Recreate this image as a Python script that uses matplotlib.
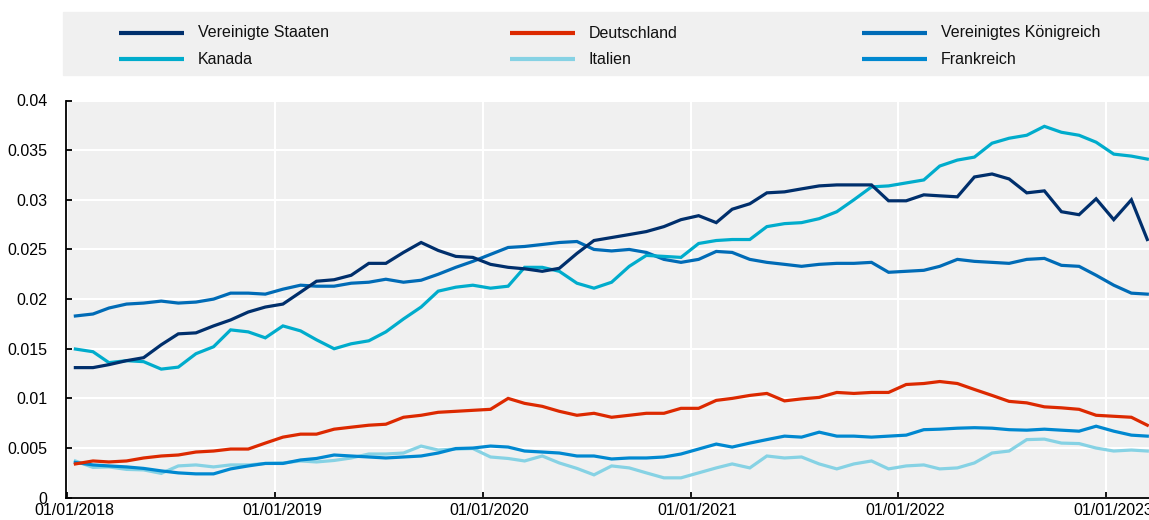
import numpy as np
import pandas as pd
import matplotlib
matplotlib.use("Agg")
import matplotlib.pyplot as plt
import matplotlib.dates as mdates
import matplotlib.transforms as mtransforms
from matplotlib.lines import Line2D
from matplotlib.patches import Rectangle
from matplotlib.ticker import FuncFormatter, MultipleLocator

plt.rcParams['font.family'] = ['Liberation Sans', 'DejaVu Sans']

# monthly observations, plotted mid-month (Jan 2018 - Mar 2023)
dates = pd.date_range('2018-01-01', '2023-03-01', freq='MS') + pd.Timedelta(days=14)

# values in thousandths
us = [13.1, 13.1, 13.4, 13.8, 14.1, 15.4, 16.5, 16.6, 17.3, 17.9, 18.7, 19.2,
      19.5, 20.7, 21.8, 21.95, 22.4, 23.6, 23.6, 24.7, 25.7, 24.9, 24.3, 24.2,
      23.5, 23.2, 23.05, 22.8, 23.1, 24.6, 25.9, 26.2, 26.5, 26.8, 27.3, 28.0,
      28.4, 27.7, 29.05, 29.6, 30.7, 30.8, 31.1, 31.4, 31.5, 31.5, 31.5, 29.9,
      29.9, 30.5, 30.4, 30.3, 32.3, 32.6, 32.1, 30.7, 30.9, 28.8, 28.5, 30.1,
      28.0, 30.0, 26.0]
de = [3.4, 3.7, 3.6, 3.7, 4.0, 4.2, 4.3, 4.6, 4.7, 4.9, 4.9, 5.5,
      6.1, 6.4, 6.4, 6.9, 7.1, 7.3, 7.4, 8.1, 8.3, 8.6, 8.7, 8.8,
      8.9, 10.0, 9.5, 9.2, 8.7, 8.3, 8.5, 8.1, 8.3, 8.5, 8.5, 9.0,
      9.0, 9.8, 10.0, 10.3, 10.5, 9.75, 9.95, 10.1, 10.6, 10.5, 10.6, 10.6,
      11.4, 11.5, 11.7, 11.5, 10.9, 10.3, 9.7, 9.55, 9.15, 9.05, 8.9, 8.3,
      8.2, 8.1, 7.3]
uk = [18.3, 18.5, 19.1, 19.5, 19.6, 19.8, 19.6, 19.7, 20.0, 20.6, 20.6, 20.5,
      21.0, 21.4, 21.3, 21.3, 21.6, 21.7, 22.0, 21.7, 21.9, 22.5, 23.2, 23.8,
      24.5, 25.2, 25.3, 25.5, 25.7, 25.8, 25.0, 24.85, 25.0, 24.7, 24.0, 23.7,
      24.0, 24.8, 24.7, 24.0, 23.7, 23.5, 23.3, 23.5, 23.6, 23.6, 23.7, 22.7,
      22.8, 22.9, 23.3, 24.0, 23.8, 23.7, 23.6, 24.0, 24.1, 23.4, 23.3, 22.4,
      21.4, 20.6, 20.5]
ca = [14.97, 14.7, 13.6, 13.8, 13.7, 12.95, 13.15, 14.5, 15.2, 16.9, 16.7, 16.1,
      17.3, 16.8, 15.9, 15.0, 15.5, 15.8, 16.7, 18.0, 19.2, 20.8, 21.2, 21.4,
      21.1, 21.3, 23.2, 23.2, 22.8, 21.6, 21.1, 21.7, 23.3, 24.4, 24.3, 24.2,
      25.6, 25.9, 26.0, 26.0, 27.3, 27.6, 27.7, 28.1, 28.8, 30.0, 31.3, 31.4,
      31.7, 32.0, 33.4, 34.0, 34.3, 35.7, 36.2, 36.5, 37.4, 36.8, 36.5, 35.8,
      34.6, 34.4, 34.1]
it = [3.7, 3.05, 3.1, 2.85, 2.8, 2.45, 3.2, 3.3, 3.1, 3.3, 3.3, 3.45,
      3.5, 3.7, 3.6, 3.75, 4.0, 4.4, 4.4, 4.5, 5.2, 4.8, 4.9, 4.95,
      4.1, 3.95, 3.7, 4.2, 3.5, 2.95, 2.3, 3.2, 3.0, 2.5, 2.0, 2.0,
      2.5, 3.0, 3.4, 3.0, 4.2, 4.0, 4.1, 3.4, 2.9, 3.4, 3.7, 2.9,
      3.2, 3.3, 2.9, 3.0, 3.5, 4.5, 4.7, 5.85, 5.9, 5.5, 5.45, 5.0,
      4.7, 4.8, 4.7]
fr = [3.55, 3.3, 3.2, 3.1, 2.95, 2.7, 2.5, 2.4, 2.4, 2.9, 3.2, 3.45,
      3.45, 3.8, 3.95, 4.3, 4.2, 4.1, 4.0, 4.1, 4.2, 4.5, 4.95, 5.0,
      5.2, 5.1, 4.7, 4.6, 4.5, 4.2, 4.2, 3.9, 4.0, 4.0, 4.1, 4.4,
      4.9, 5.4, 5.1, 5.5, 5.85, 6.2, 6.1, 6.6, 6.2, 6.2, 6.1, 6.2,
      6.3, 6.85, 6.9, 7.0, 7.05, 7.0, 6.85, 6.8, 6.9, 6.8, 6.7, 7.2,
      6.7, 6.3, 6.2]

labels = ['Vereinigte Staaten', 'Deutschland', 'Vereinigtes Königreich',
          'Kanada', 'Italien', 'Frankreich']
series = [us, de, uk, ca, it, fr]
colors = ['#002f6c', '#dc2900', '#006bb6', '#00accc', '#86d2e4', '#0088d0']
# drawing order: bottom first
draw_order = [4, 5, 1, 2, 3, 0]

W, H = 1149, 520
fig = plt.figure(figsize=(W / 100, H / 100), dpi=100)
ax = fig.add_axes([65.7 / W, 1 - 497.7 / H, (W - 65.7) / W, (497.7 - 100.5) / H])
ax.set_facecolor('#f0f0f0')

for k in draw_order:
    ax.plot(dates, np.array(series[k]) / 1000, color=colors[k], lw=2.3,
            solid_joinstyle='miter', zorder=3)

ax.set_xlim(pd.Timestamp('2017-12-29'), pd.Timestamp('2023-03-18'))
ax.set_ylim(0, 0.04)
ax.yaxis.set_major_locator(MultipleLocator(0.005))
ax.yaxis.set_major_formatter(FuncFormatter(lambda v, p: '%g' % round(v, 4)))
ax.xaxis.set_major_locator(mdates.YearLocator())
ax.xaxis.set_major_formatter(mdates.DateFormatter('%d/%m/%Y'))

ax.grid(True, color='white', lw=1.5, zorder=1)
ax.set_axisbelow(True)
for s in ['top', 'right']:
    ax.spines[s].set_visible(False)
for s in ['left', 'bottom']:
    ax.spines[s].set_color('black')
    ax.spines[s].set_linewidth(1.3)
ax.tick_params(axis='both', direction='in', length=4, width=1.3, colors='black',
               labelsize=11.5)
ax.tick_params(axis='y', pad=13)
ax.tick_params(axis='x', pad=4)
shift = mtransforms.ScaledTranslation(7 / 100, 0, fig.dpi_scale_trans)
for lab in ax.get_xticklabels():
    lab.set_transform(lab.get_transform() + shift)

# legend band
fig.add_artist(Rectangle((63 / W, 1 - 75 / H), (W - 63) / W, 63 / H,
                         transform=fig.transFigure, color='#f0f0f0', zorder=0))
col_x = [(119, 184, 198), (510, 575, 589), (862, 927, 941)]
row_y = [33, 59]
for k, lab in enumerate(labels):
    x0, x1, xt = col_x[k % 3]
    y = 1 - row_y[k // 3] / H
    fig.add_artist(Line2D([x0 / W, x1 / W], [y, y], transform=fig.transFigure,
                          color=colors[k], lw=3, solid_capstyle='butt'))
    fig.text(xt / W, y, lab, fontsize=11.5, va='center', ha='left', color='#111111')

fig.savefig('out.png', dpi=100)
